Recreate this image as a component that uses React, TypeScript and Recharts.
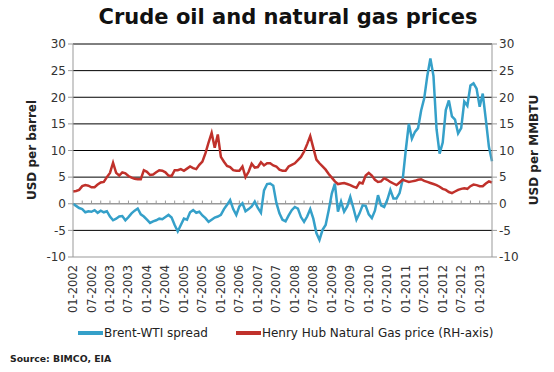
import React from 'react';
import { LineChart, Line, XAxis, YAxis, CartesianGrid, ReferenceLine } from 'recharts';

// monthly categories, 01-2002 .. 05-2013
const months: string[] = [];
for (let i = 0; i < 137; i++) {
  const m = (i % 12) + 1;
  const y = 2002 + Math.floor(i / 12);
  months.push(`${String(m).padStart(2, '0')}-${y}`);
}

// Brent-WTI spread, USD per barrel
const brentWtiSpread = [
  0, -0.4, -0.8, -1.0, -1.6, -1.4, -1.5, -1.2, -1.7, -1.3, -1.6, -1.4,
  -2.4, -3.1, -2.8, -2.4, -2.3, -3.1, -2.5, -1.8, -1.3, -0.9, -2.0, -2.4,
  -3.0, -3.6, -3.3, -3.1, -2.8, -2.9, -2.5, -2.1, -2.6, -4.0, -5.2, -4.0,
  -2.8, -3.0, -1.6, -1.2, -1.7, -1.5, -2.2, -2.7, -3.4, -3.0, -2.6, -2.4,
  -2.1, -1.0, -0.2, 0.7, -1.0, -2.1, -0.5, 0.1, -1.4, -1.0, -0.5, 0.4,
  -0.8, -1.7, 2.5, 3.7, 3.8, 3.4, 0.2, -1.8, -3.0, -3.3, -2.2, -1.2,
  -0.6, -0.9, -2.5, -3.4, -2.4, -1.0, -2.8, -5.5, -6.8, -4.9, -4.0, -1.2,
  1.9, 3.8, -1.5, 0.4, -1.5, -0.5, 1.3, -0.8, -3.0, -1.8, -0.3, -0.4,
  -2.0, -2.7, -1.3, 1.6, -0.3, -0.6, 0.7, 2.6, 1.0, 1.0, 2.0, 4.5,
  10.0, 15.0, 12.2, 13.5, 14.2, 17.5, 19.8, 24.0, 27.3, 24.0, 14.0, 9.4,
  11.5, 17.6, 19.4, 16.4, 15.8, 13.2, 14.2, 19.2, 18.4, 22.2, 22.6, 21.6,
  18.2, 20.7, 15.8, 10.7, 8.0,
];

// Henry Hub natural gas price, USD per MMBTU
const henryHubGas = [
  2.3, 2.4, 2.6, 3.3, 3.5, 3.4, 3.1, 3.1, 3.6, 4.0, 4.1, 5.0,
  5.8, 7.7, 5.8, 5.3, 5.9, 5.7, 5.2, 4.9, 4.7, 4.6, 4.6, 6.3,
  6.0, 5.4, 5.5, 5.9, 6.3, 6.2, 5.9, 5.3, 5.2, 6.3, 6.3, 6.5,
  6.2, 6.6, 7.0, 6.7, 6.5, 7.3, 7.9, 9.5, 11.5, 13.3, 10.5, 13.0,
  8.8, 7.9, 7.1, 6.9, 6.3, 6.2, 6.2, 7.0, 5.0, 6.0, 7.5, 6.8,
  6.9, 7.8, 7.2, 7.6, 7.6, 7.2, 7.0, 6.4, 6.2, 6.2, 7.0, 7.3,
  7.6, 8.2, 8.8, 9.8, 11.2, 12.7, 10.5, 8.3, 7.6, 7.0, 6.4, 5.6,
  4.9, 4.2, 3.7, 3.8, 3.9, 3.7, 3.5, 3.2, 3.0, 4.0, 3.8, 5.3,
  5.8, 5.3, 4.5, 4.1, 4.2, 4.8, 4.5, 4.1, 3.8, 3.5, 4.0, 4.5,
  4.3, 4.1, 4.2, 4.3, 4.5, 4.6, 4.3, 4.1, 3.9, 3.7, 3.5, 3.2,
  2.8, 2.6, 2.2, 2.0, 2.3, 2.6, 2.8, 2.9, 2.8, 3.3, 3.6, 3.5,
  3.3, 3.3, 3.8, 4.2, 4.0,
];

const axisTicks = [-10, -5, 0, 5, 10, 15, 20, 25, 30];
const gridValues = [-5, 5, 10, 15, 20, 25, 30];
const seriesNames = ['Brent-WTI spread', 'Henry Hub Natural Gas price (RH-axis)'];
const seriesColors = ['#35a0c9', '#c0312b'];

const data = months.map((month, i) => ({
  month,
  spread: brentWtiSpread[i],
  gas: henryHubGas[i],
}));

const tickMarkMonths = months.filter((_, i) => i > 0 && i % 3 === 0);

const FONT = '"DejaVu Sans", Verdana, sans-serif';

function MonthTick({ x, y, payload }: any) {
  return (
    <g transform={`translate(${x},${y})`}>
      <text transform="rotate(-90)" x={0} y={0} dy="0.35em" textAnchor="end" fontSize={11.5} fill="#333" fontFamily={FONT}>
        {payload.value}
      </text>
    </g>
  );
}

export default function App() {
  return (
    <div style={{ position: 'absolute', left: 0, top: 0, width: 554, height: 372, background: '#fff', fontFamily: FONT, color: '#222' }}>
      <div style={{ position: 'absolute', top: 5, left: 11, width: 554, textAlign: 'center', fontSize: 21, fontWeight: 'bold', color: '#111' }}>
        Crude oil and natural gas prices
      </div>

      <LineChart width={554} height={372} data={data} margin={{ top: 44, right: 22, bottom: 55, left: 28 }}>
        <CartesianGrid yAxisId="left" vertical={false} horizontalValues={gridValues} stroke="#000" strokeWidth={1} />
        <XAxis
          dataKey="month"
          interval={5}
          height={60}
          tick={<MonthTick />}
          tickLine={false}
          axisLine={{ stroke: '#999' }}
        />
        <YAxis
          yAxisId="left"
          domain={[-10, 30]}
          ticks={axisTicks}
          width={45}
          tickSize={5}
          tick={{ fontSize: 12, fill: '#333', fontFamily: FONT }}
          axisLine={{ stroke: '#999' }}
          tickLine={{ stroke: '#999' }}
        />
        <YAxis
          yAxisId="right"
          orientation="right"
          domain={[-10, 30]}
          ticks={axisTicks}
          width={40}
          tickSize={5}
          tick={{ fontSize: 12, fill: '#333', fontFamily: FONT }}
          axisLine={{ stroke: '#999' }}
          tickLine={{ stroke: '#999' }}
        />
        <ReferenceLine yAxisId="left" y={0} stroke="#999" strokeWidth={1.5} />
        {tickMarkMonths.map((m) => (
          <ReferenceLine
            key={m}
            yAxisId="left"
            segment={[{ x: m, y: 0 }, { x: m, y: 0.6 }]}
            stroke="#999"
          />
        ))}
        <Line yAxisId="left" type="linear" dataKey="spread" stroke={seriesColors[0]} strokeWidth={2.5} dot={false} isAnimationActive={false} />
        <Line yAxisId="right" type="linear" dataKey="gas" stroke={seriesColors[1]} strokeWidth={2.5} dot={false} isAnimationActive={false} />
      </LineChart>

      <div style={{ position: 'absolute', left: 32, top: 150, width: 0, height: 0 }}>
        <div style={{ position: 'absolute', transform: 'translate(-50%,-50%) rotate(-90deg)', whiteSpace: 'nowrap', fontSize: 12, fontWeight: 'bold' }}>
          USD per barrel
        </div>
      </div>
      <div style={{ position: 'absolute', left: 534, top: 150, width: 0, height: 0 }}>
        <div style={{ position: 'absolute', transform: 'translate(-50%,-50%) rotate(-90deg)', whiteSpace: 'nowrap', fontSize: 12, fontWeight: 'bold' }}>
          USD per MMBTU
        </div>
      </div>

      <div style={{ position: 'absolute', top: 325, left: 78, display: 'flex', alignItems: 'center', fontSize: 12, lineHeight: '16px', whiteSpace: 'nowrap' }}>
        {seriesNames.map((name, i) => (
          <div key={name} style={{ display: 'flex', alignItems: 'center', marginRight: 28 }}>
            <span style={{ display: 'inline-block', width: 25, height: 4, background: seriesColors[i], marginRight: 1 }} />
            <span>{name}</span>
          </div>
        ))}
      </div>

      <div style={{ position: 'absolute', top: 353, left: 10, fontSize: 9.3, fontWeight: 'bold', color: '#222' }}>
        Source: BIMCO, EIA
      </div>
    </div>
  );
}
